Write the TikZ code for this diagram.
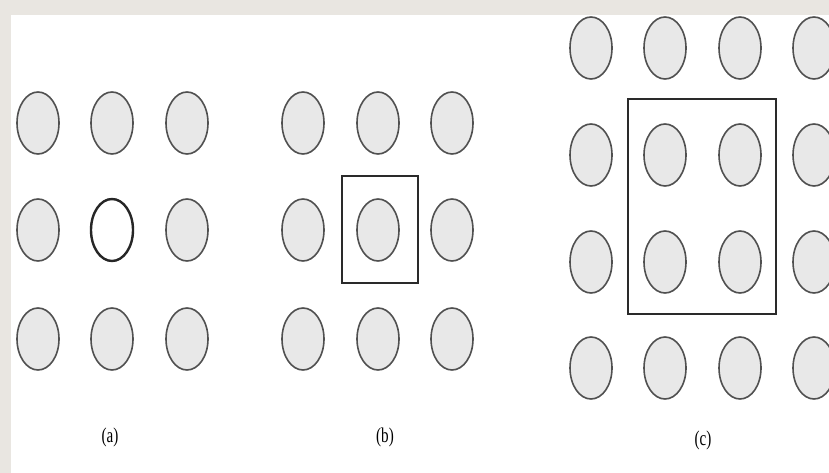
\documentclass[tikz,border=0pt]{standalone}
\usepackage{fontspec}
\setmainfont{Liberation Serif}
\usetikzlibrary{shapes.geometric}
\definecolor{bgmarble}{HTML}{E9E6E1}
\definecolor{dotfill}{HTML}{E8E8E8}
\definecolor{dotline}{HTML}{505050}
\definecolor{boxline}{HTML}{2A2A2A}
\tikzset{
  dot/.style={ellipse, draw=dotline, fill=dotfill, line width=1.6pt, minimum width=42pt, minimum height=62pt, inner sep=0pt},
  hotdot/.style={dot, draw=black!85, fill=white, line width=2.4pt},
  selbox/.style={draw=boxline, line width=2.2pt},
  caption/.style={font=\fontsize{21}{23}\selectfont, xscale=0.72, inner sep=0pt}
}
\begin{document}
\begin{tikzpicture}[x=1pt,y=-1pt]
\useasboundingbox (0,0) rectangle (829,473);
\fill[bgmarble] (0,0) rectangle (829,473);
\fill[white] (11,15) rectangle (829,473);
% (a)
\foreach \c/\x in {1/38,2/112,3/187}{
  \foreach \r/\y in {1/123,2/230,3/339}{
    \node[dot] (a\r\c) at (\x,\y) {};
  }
}
\node[hotdot] (a22h) at (112,230) {};
% (b)
\foreach \c/\x in {1/303,2/378,3/452}{
  \foreach \r/\y in {1/123,2/230,3/339}{
    \node[dot] (b\r\c) at (\x,\y) {};
  }
}
\draw[selbox] (342,176) rectangle (418,283);
% (c)
\foreach \c/\x in {1/591,2/665,3/740,4/814}{
  \foreach \r/\y in {1/48,2/155,3/262,4/368}{
    \node[dot] (c\r\c) at (\x,\y) {};
  }
}
\draw[selbox] (628,99) rectangle (776,314);
% captions
\node[caption] (la) at (110,437) {(a)};
\node[caption] (lb) at (385,437) {(b)};
\node[caption] (lc) at (703,440) {(c)};
\end{tikzpicture}
\end{document}
